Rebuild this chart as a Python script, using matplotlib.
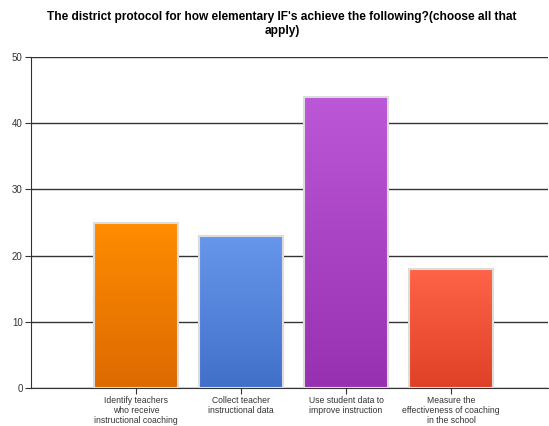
import numpy as np
import matplotlib
matplotlib.use("Agg")
import matplotlib.pyplot as plt
from matplotlib.colors import LinearSegmentedColormap

plt.rcParams['font.family'] = ['Liberation Sans', 'DejaVu Sans']

categories = ["Identify teachers\nwho receive\ninstructional coaching",
              "Collect teacher\ninstructional data",
              "Use student data to\nimprove instruction",
              "Measure the\neffectiveness of coaching\nin the school"]
values = [25, 23, 44, 18]
top_colors = ["#ff8c00", "#6797ec", "#bc57d8", "#ff6448"]
bottom_colors = ["#dd6a00", "#4170c9", "#9731b2", "#df4126"]
yticks = [0, 10, 20, 30, 40, 50]

fig = plt.figure(figsize=(5.49, 4.26), dpi=100)
ax = fig.add_axes([31 / 549, 38 / 426, 517 / 549, 331 / 426])

x = np.arange(1, len(values) + 1)
bars = ax.bar(x, values, width=0.8, edgecolor="#dcdcdc", linewidth=1.5, zorder=3, color="none")

# vertical gradient fill for each bar
grad = np.linspace(1, 0, 256).reshape(-1, 1)
for b, c1, c2 in zip(bars, top_colors, bottom_colors):
    cmap = LinearSegmentedColormap.from_list("g", [c2, c1])
    x0, y0 = b.get_x(), b.get_y()
    im = ax.imshow(grad, cmap=cmap, aspect="auto", zorder=2.5,
                   extent=[x0, x0 + b.get_width(), y0, y0 + b.get_height()])
    im.set_clip_path(b)

ax.set_xlim(0, 517 / 105)
ax.set_ylim(0, 50)
ax.set_yticks(yticks)
ax.yaxis.grid(True, color="#333333", linewidth=1.0, zorder=1)
ax.set_axisbelow(True)
ax.set_xticks(x)
ax.set_xticklabels(categories, fontsize=6.2, color="#222222", linespacing=1.12)
ax.tick_params(axis="y", labelsize=7, colors="#333333", length=4, pad=2)
ax.tick_params(axis="x", length=4, colors="#333333", pad=2)
for s in ["top", "right"]:
    ax.spines[s].set_visible(False)
for s in ["left", "bottom"]:
    ax.spines[s].set_color("#333333")

fig.suptitle("The district protocol for how elementary IF's achieve the following?(choose all that\napply)",
             x=282 / 549, y=1 - 11 / 426, va="top", fontsize=8.55, fontweight="bold", linespacing=1.27)

fig.savefig("out.png", dpi=100)
